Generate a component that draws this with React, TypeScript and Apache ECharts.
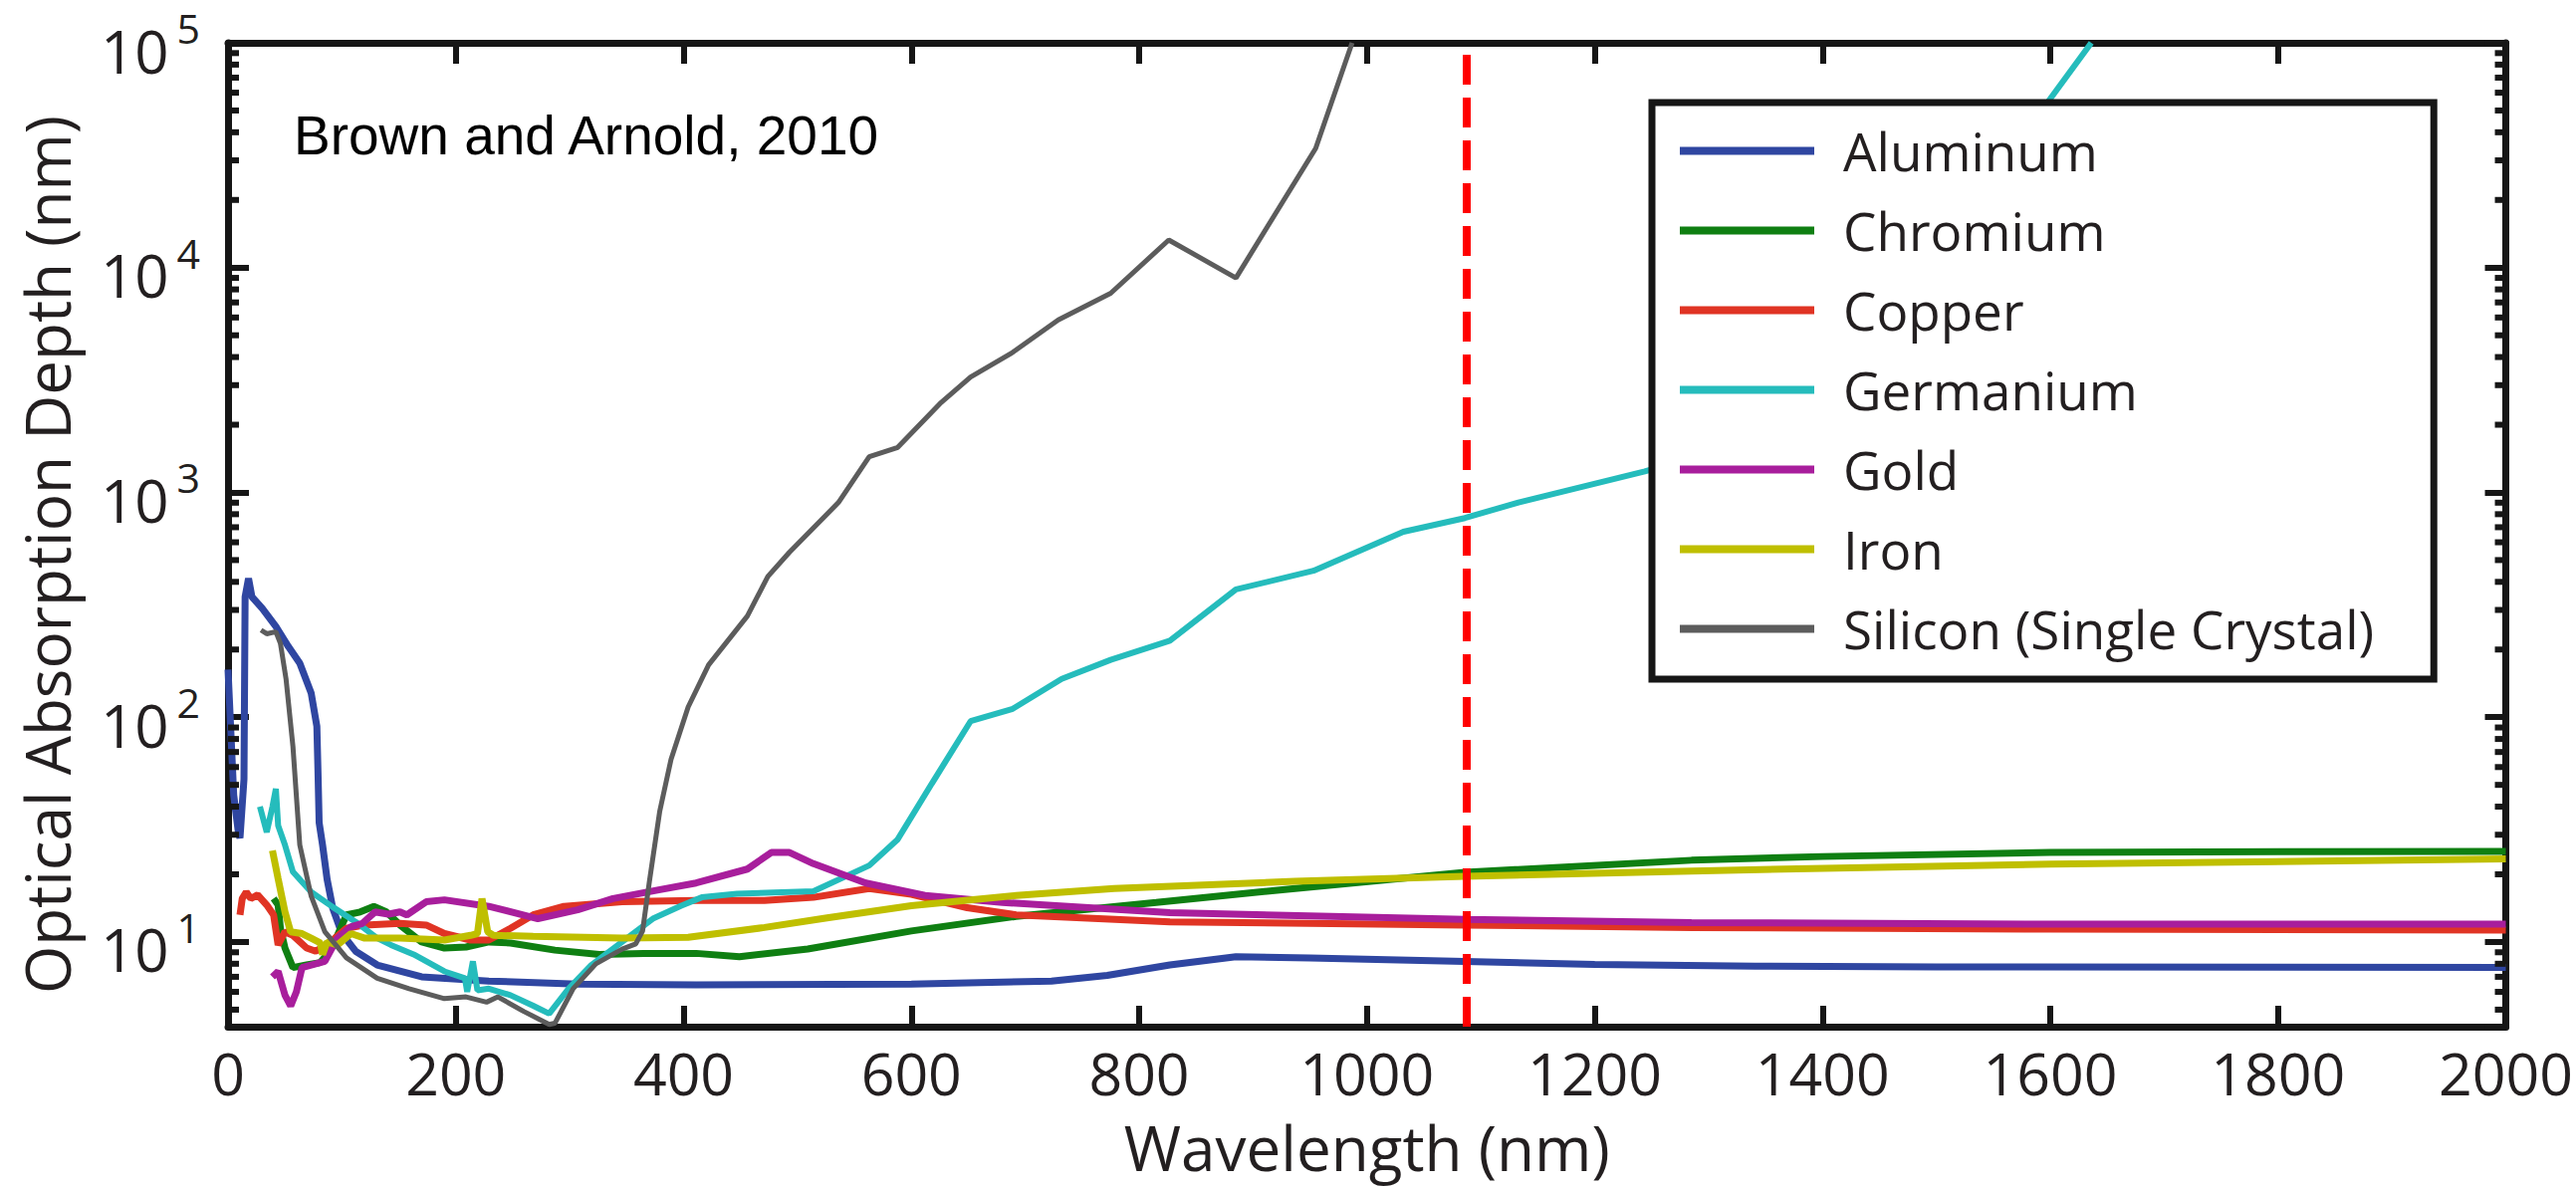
import React, { useEffect, useRef } from 'react';
import * as echarts from 'echarts';

// ---------- data (wavelength nm, optical absorption depth nm) ----------
const aluminum = [[0,163],[5,45],[9,31],[10.5,29],[14,53],[15,343],[18,414],[21,343],[30,305],[42,253],[53,206],[63,174],[73,128],[78,91],[79,57],[80,34],[83,27],[87,19],[92,14.1],[100,10.9],[112,9.1],[131,7.9],[170,7.0],[229,6.7],[307,6.5],[411,6.45],[600,6.5],[723,6.7],[772,7.1],[827,7.9],[885,8.6],[950,8.5],[1086,8.2],[1200,7.95],[1341,7.8],[1500,7.75],[2000,7.7]];
const chromium = [[40,15.6],[44,14.6],[46,11.5],[50,9.4],[57,7.7],[69,7.9],[81,8.1],[87,8.8],[96,10.7],[104,13.2],[116,13.6],[128,14.4],[139,13.6],[151,11.9],[170,10.0],[190,9.4],[209,9.5],[229,10],[248,9.9],[287,9.2],[326,8.8],[365,8.9],[411,8.9],[449,8.6],[509,9.3],[600,11.2],[692,13.0],[815,15.0],[937,17.3],[1086,20.4],[1285,23.1],[1400,24],[1600,25.0],[1800,25.2],[2000,25.3]];
const copper = [[10.5,13.2],[12.5,15.6],[16,16.7],[20,15.6],[26,16.2],[34,14.6],[40,13.2],[44,9.7],[50,11.1],[57,10.7],[69,9.4],[77,9.1],[89,9.9],[104,11.5],[120,11.9],[151,12.1],[174,11.9],[190,10.9],[213,10.2],[229,10.2],[248,11.5],[268,13.2],[295,14.4],[346,15.1],[411,15.3],[471,15.3],[514,15.8],[563,17.3],[600,16.3],[649,14.2],[692,13.2],[827,12.3],[1086,11.9],[1285,11.6],[1600,11.4],[2000,11.3]];
const germanium = [[28,40],[34,30.8],[39,40],[42,48],[44,33],[50,27],[57,20.5],[73,16.7],[92,14.3],[112,12.3],[131,10.4],[143,9.7],[163,8.8],[190,7.4],[208,6.9],[210,6.0],[215,8.2],[219,6.1],[229,6.2],[248,5.8],[268,5.2],[282,4.8],[299,6.2],[319,7.9],[346,10],[373,12.7],[398,14.5],[416,15.8],[447,16.4],[514,16.8],[563,21.9],[588,28.6],[618,50.7],[652,96],[689,109],[732,148],[775,180],[827,219],[885,370],[953,448],[1032,668],[1086,769],[1133,902],[1244,1240],[1300,1500],[1400,2600],[1500,9000],[1560,25000],[1599,55500],[1636,100000]];
const gold = [[39,7.0],[44,7.4],[50,5.8],[55,5.2],[60,6.0],[65,7.7],[73,7.9],[85,8.2],[96,10.4],[108,11.7],[118,12.1],[129,13.6],[141,13.3],[151,13.6],[157,13.2],[174,15.1],[190,15.4],[229,14.4],[272,12.7],[307,13.9],[338,15.6],[377,17.0],[411,18.3],[456,21.1],[477,25],[493,25],[514,22.3],[560,18.3],[612,16.1],[680,15.0],[827,13.5],[1086,12.6],[1285,12.2],[1600,12.0],[2000,12.0]];
const iron = [[39,25.5],[44,19.1],[50,13.6],[55,11.1],[65,10.9],[73,10.4],[81,9.9],[83,8.8],[87,10],[96,9.7],[108,10.9],[120,10.4],[151,10.4],[190,10.2],[213,10.7],[219,10.9],[223,15.6],[228,11.1],[233,10.7],[268,10.6],[346,10.4],[404,10.5],[471,11.6],[526,12.8],[600,14.5],[692,16.1],[778,17.3],[937,18.6],[1086,19.6],[1285,20.7],[1600,22.2],[2000,23.4]];
const silicon = [[29,244],[34,235],[42,240],[46,213],[51,147],[57,74],[63,27],[73,16],[85,11.1],[104,8.5],[131,6.9],[159,6.2],[190,5.6],[209,5.7],[227,5.4],[237,5.7],[260,4.9],[282,4.3],[287,4.35],[303,6.2],[323,8.0],[346,9.3],[358,9.8],[364,11.2],[370,18.6],[379,38],[389,65],[404,111],[422,171],[456,282],[474,423],[493,542],[536,902],[563,1440],[588,1585],[625,2480],[652,3260],[689,4200],[729,5850],[775,7690],[826,13270],[885,9000],[922,18150],[955,33900],[987,100000]];

const seriesNames = ['Aluminum', 'Chromium', 'Copper', 'Germanium', 'Gold', 'Iron', 'Silicon (Single Crystal)'];
const seriesData = [aluminum, chromium, copper, germanium, gold, iron, silicon];
const seriesColors = ['#2f46a1', '#0f7f12', '#e03424', '#25bcbc', '#a81e9c', '#bfbf00', '#5c5c5c'];
const seriesWidths = [7, 7, 7, 6, 7, 7, 5];

const xTicks = [0, 2000, 200]; // min, max, interval
const yRange = [4.2, 100000];
const bandgapWavelength = 1087;
const citation = 'Brown and Arnold, 2010';

const decades = [1, 10, 100, 1000, 10000];
const minorMultipliers = [2, 3, 4, 5, 6, 7, 8, 9];
const minorTickValues: number[] = [];
decades.forEach((d) => minorMultipliers.forEach((m) => {
  const v = d * m;
  if (v > yRange[0] && v < yRange[1]) minorTickValues.push(v);
}));

const INK = '#161616';
const TXT = '#231f20';
const FONT = 'Open Sans';

export default function App() {
  const ref = useRef<HTMLDivElement>(null);
  useEffect(() => {
    const chart = echarts.init(ref.current!, null, { renderer: 'svg' });

    const axisLine = { show: true, onZero: false, lineStyle: { color: INK, width: 7 } };
    const axisTick = { show: true, inside: true, length: 21, lineStyle: { color: INK, width: 6 } };

    const lineSeries: any[] = seriesNames.map((name, i) => ({
      name,
      type: 'line',
      data: seriesData[i],
      showSymbol: false,
      symbol: 'none',
      smooth: false,
      xAxisIndex: 0,
      yAxisIndex: 0,
      z: 2 + (i === 6 ? 0.5 : 0),
      lineStyle: { color: seriesColors[i], width: seriesWidths[i] },
      itemStyle: { color: seriesColors[i] },
      emphasis: { disabled: true },
    }));

    lineSeries.push({
      name: 'bandgap',
      type: 'line',
      data: [],
      xAxisIndex: 0,
      yAxisIndex: 0,
      markLine: {
        silent: true,
        symbol: ['none', 'none'],
        label: { show: false },
        lineStyle: { color: '#ff0000', width: 8, type: [30, 13] },
        data: [{ xAxis: bandgapWavelength }],
        z: 5,
      },
    });

    lineSeries.push({
      name: 'minorTicks',
      type: 'custom',
      xAxisIndex: 0,
      yAxisIndex: 0,
      silent: true,
      z: 6,
      encode: { x: 0, y: 1 },
      data: minorTickValues.map((v) => [0, v]),
      renderItem: (params: any, api: any) => {
        const cs = params.coordSys;
        const y = api.coord([0, api.value(1)])[1];
        const len = 11;
        return {
          type: 'group',
          children: [
            { type: 'line', shape: { x1: cs.x, y1: y, x2: cs.x + len, y2: y }, style: { stroke: INK, lineWidth: 6 } },
            { type: 'line', shape: { x1: cs.x + cs.width - len, y1: y, x2: cs.x + cs.width, y2: y }, style: { stroke: INK, lineWidth: 6 } },
          ],
        };
      },
    });

    const yLabelFormatter = (value: number) => {
      const e = Math.round(Math.log10(value));
      if (Math.abs(value - Math.pow(10, e)) > 1e-6 * value) return '';
      return `{b|10}{s|${e}}`;
    };

    chart.setOption({
      animation: false,
      backgroundColor: '#ffffff',
      textStyle: { fontFamily: FONT },
      grid: { left: 229, right: 69, top: 43, bottom: 162, containLabel: false },
      legend: {
        data: seriesNames,
        orient: 'vertical',
        left: 1659,
        top: 103,
        icon: 'rect',
        itemWidth: 135,
        itemHeight: 8,
        itemGap: 27,
        padding: [22, 60, 24, 28],
        backgroundColor: '#ffffff',
        borderColor: INK,
        borderWidth: 7,
        borderRadius: 0,
        selectedMode: false,
        textStyle: { fontSize: 53, fontFamily: FONT, color: TXT, lineHeight: 53, padding: [0, 0, 0, 24] },
        z: 10,
      },
      xAxis: [
        {
          type: 'value',
          position: 'bottom',
          min: xTicks[0],
          max: xTicks[1],
          interval: xTicks[2],
          axisLine,
          axisTick,
          splitLine: { show: false },
          axisLabel: {
            show: true,
            fontSize: 59,
            fontFamily: FONT,
            color: TXT,
            margin: 16,
            formatter: (v: number) => String(v),
          },
          name: 'Wavelength (nm)',
          nameLocation: 'middle',
          nameGap: 90,
          nameTextStyle: { fontSize: 62, fontFamily: FONT, color: TXT },
        },
        {
          type: 'value',
          position: 'top',
          min: xTicks[0],
          max: xTicks[1],
          interval: xTicks[2],
          axisLine,
          axisTick,
          splitLine: { show: false },
          axisLabel: { show: false },
        },
      ],
      yAxis: [
        {
          type: 'log',
          logBase: 10,
          position: 'left',
          min: yRange[0],
          max: yRange[1],
          axisLine,
          axisTick,
          splitLine: { show: false },
          minorTick: { show: false },
          axisLabel: {
            show: true,
            margin: 28,
            formatter: yLabelFormatter,
            rich: {
              b: { fontSize: 60, fontFamily: FONT, color: TXT, padding: [15, 0, 0, 0] },
              s: { fontSize: 41, fontFamily: FONT, color: TXT, verticalAlign: 'top', padding: [2, 0, 0, 8] },
            },
          },
          name: 'Optical Absorption Depth (nm)',
          nameLocation: 'middle',
          nameGap: 151,
          nameTextStyle: { fontSize: 62, fontFamily: FONT, color: TXT, padding: [0, 40, 0, 0] },
        },
        {
          type: 'log',
          logBase: 10,
          position: 'right',
          min: yRange[0],
          max: yRange[1],
          axisLine,
          axisTick,
          splitLine: { show: false },
          axisLabel: { show: false },
        },
      ],
      graphic: [
        {
          type: 'text',
          left: 295,
          top: 108,
          z: 20,
          style: { text: citation, font: '55px "Liberation Sans", Arial, sans-serif', fill: '#000000' },
        },
      ],
      series: lineSeries,
    });

    return () => chart.dispose();
  }, []);

  return (
    <div
      ref={ref}
      style={{ position: 'fixed', left: 0, top: 0, width: 2587, height: 1193, background: '#ffffff' }}
    />
  );
}
